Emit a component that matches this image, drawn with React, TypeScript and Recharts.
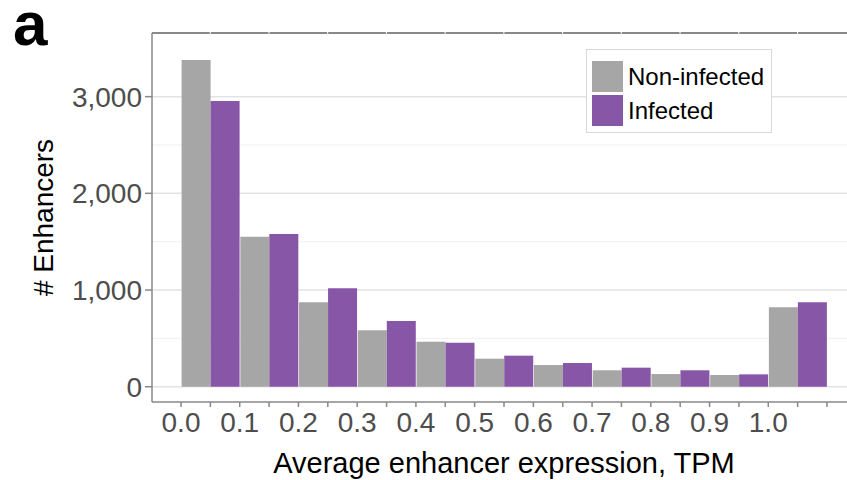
import { Bar, BarChart, CartesianGrid, Legend, XAxis, YAxis } from "recharts";

// bin left edges (TPM) and enhancer counts per bin
const bins = ["0.0", "0.1", "0.2", "0.3", "0.4", "0.5", "0.6", "0.7", "0.8", "0.9", "1.0"];
const nonInfected = [3380, 1550, 873, 583, 465, 290, 224, 170, 131, 121, 821];
const infected = [2955, 1580, 1018, 679, 455, 321, 245, 197, 170, 128, 873];
const yTicks = [0, 1000, 2000, 3000];
const yMinor = [500, 1500, 2500];

const data = bins.map((bin, i) => ({ bin, nonInfected: nonInfected[i], infected: infected[i] }));

const GREY = "#a6a6a6";
const PURPLE = "#8856a7";
const AXIS = "#888888";
const FONT = "'Liberation Sans', Arial, Helvetica, sans-serif";

const CHART_W = 860;
const CHART_H = 480;
const Y_AXIS_W = 152;
const TOP_AXIS_H = 2;
const MARGIN = { top: 33 - TOP_AXIS_H, right: 4, bottom: 0, left: 0 };
const PAD = 29;
const PLOT_W = CHART_W - MARGIN.left - MARGIN.right - Y_AXIS_W;
const HALF = (PLOT_W - 2 * PAD) / bins.length / 2;

// labels sit on the bin edges, so shift them half a band to the left
function EdgeTick(props: any) {
  const { x, y, payload, index } = props;
  const last = index === bins.length - 1;
  return (
    <g>
      <line x1={x - HALF} x2={x - HALF} y1={y} y2={y + 5} stroke={AXIS} strokeWidth={1.5} />
      <line x1={x} x2={x} y1={y} y2={y + 5} stroke={AXIS} strokeWidth={1.5} />
      {last && <line x1={x + HALF} x2={x + HALF} y1={y} y2={y + 5} stroke={AXIS} strokeWidth={1.5} />}
      <text x={x - HALF} y={y + 30} textAnchor="middle" fontSize={28} fill="#4d4d4d">
        {payload.value}
      </text>
    </g>
  );
}

function LegendBox() {
  const rows = [
    { name: "Non-infected", color: GREY },
    { name: "Infected", color: PURPLE },
  ];
  return (
    <div
      style={{
        width: 184,
        height: 82,
        border: "1px solid #d9d9d9",
        background: "#fff",
        position: "relative",
        fontFamily: FONT,
      }}
    >
      {rows.map((r, i) => (
        <div key={r.name} style={{ position: "absolute", left: 5, top: 11 + i * 34, display: "flex", alignItems: "center" }}>
          <span style={{ width: 31, height: 31, background: r.color, display: "inline-block" }} />
          <span style={{ fontSize: 24, color: "#000", marginLeft: 5, lineHeight: "31px" }}>{r.name}</span>
        </div>
      ))}
    </div>
  );
}

export default function App() {
  return (
    <div
      style={{
        position: "absolute",
        left: 0,
        top: 0,
        width: 847,
        height: 480,
        overflow: "hidden",
        background: "#fff",
        fontFamily: FONT,
      }}
    >
      <BarChart
        width={CHART_W}
        height={CHART_H}
        data={data}
        margin={MARGIN}
        barCategoryGap={0.6}
        barGap={0}
      >
        <CartesianGrid vertical={false} horizontalValues={yMinor} stroke="#f0f0f0" strokeWidth={1} />
        <CartesianGrid vertical={false} horizontalValues={yTicks} stroke="#e3e3e3" strokeWidth={1.5} />
        <XAxis
          dataKey="bin"
          height={CHART_H - 402}
          padding={{ left: PAD, right: PAD }}
          interval={0}
          tickSize={0}
          tickMargin={0}
          tickLine={false}
          tick={<EdgeTick />}
          axisLine={{ stroke: AXIS, strokeWidth: 1.5 }}
          label={{
            value: "Average enhancer expression, TPM",
            position: "insideBottom",
            offset: 7,
            fontSize: 29,
            fill: "#000",
          }}
        />
        <XAxis
          xAxisId="top"
          dataKey="bin"
          orientation="top"
          height={TOP_AXIS_H}
          padding={{ left: PAD, right: PAD }}
          interval={0}
          tick={false}
          tickLine={false}
          axisLine={{ stroke: AXIS, strokeWidth: 2, strokeDasharray: `${2 * HALF - 1} 1` }}
        />
        <YAxis
          width={Y_AXIS_W}
          domain={[-158, 3658]}
          ticks={yTicks}
          allowDataOverflow
          tickSize={7}
          tickMargin={3}
          tick={{ fontSize: 28, fill: "#4d4d4d" }}
          tickLine={{ stroke: AXIS, strokeWidth: 1.5 }}
          axisLine={{ stroke: AXIS, strokeWidth: 1.5 }}
          tickFormatter={(v: number) => v.toLocaleString("en-US")}
          label={{ value: "# Enhancers", angle: -90, position: "center", dx: -33, fontSize: 28, fill: "#000" }}
        />
        <Legend
          layout="horizontal"
          align="center"
          verticalAlign="middle"
          content={<LegendBox />}
          wrapperStyle={{ left: 586, top: 49, width: 186, height: 84 }}
        />
        <Bar dataKey="nonInfected" name="Non-infected" fill={GREY} isAnimationActive={false} />
        <Bar dataKey="infected" name="Infected" fill={PURPLE} isAnimationActive={false} />
        <text x={13} y={45} fontSize={62} fontWeight="bold" fill="#000">
          a
        </text>
      </BarChart>
    </div>
  );
}
